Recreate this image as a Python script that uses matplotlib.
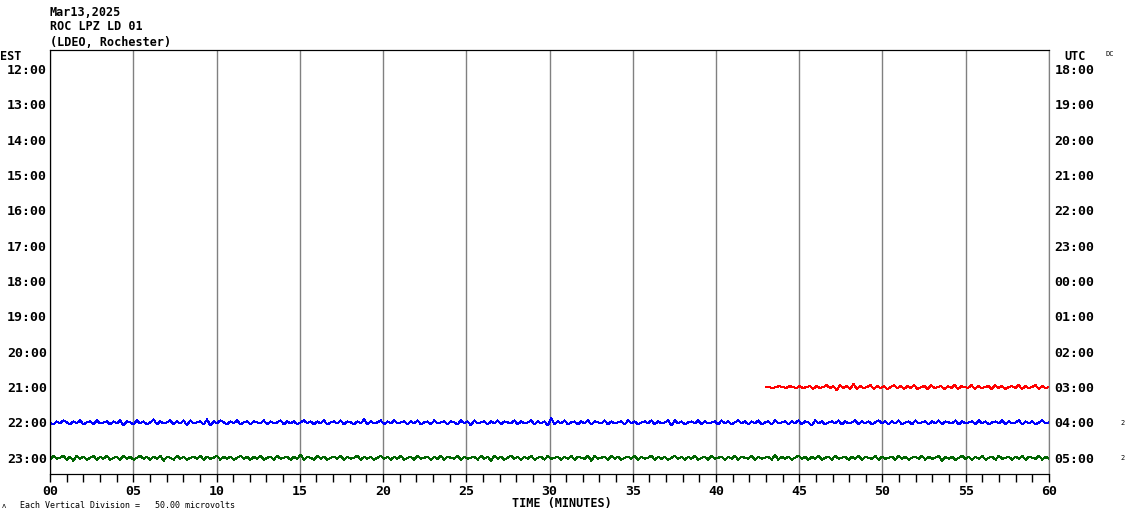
import matplotlib.pyplot as plt
import numpy as np

est_hours = ['12:00', '13:00', '14:00', '15:00', '16:00', '17:00',
             '18:00', '19:00', '20:00', '21:00', '22:00', '23:00']
utc_hours = ['18:00', '19:00', '20:00', '21:00', '22:00', '23:00',
             '00:00', '01:00', '02:00', '03:00', '04:00', '05:00']
minute_labels = ['00', '05', '10', '15', '20', '25', '30', '35', '40', '45', '50', '55', '60']

# trace wiggles, in screen pixels around the hour line (5 samples per minute)
blue_px = [0, 2, -1, 1, -2, 0, 2, -1, 1, -2, 2, 0, -1, 2, -2, 1, 0, -1, 2, -1,
           1, -2, 3, -1, 0, 2, -2, 1, -1, 2, 0, -3, 2, -1, 1, 0, -2, 2, -1, 1,
           -2, 3, -2, 1, 0, -1, 2, -3, 3, -1, 1, -2, 0, 2, -1, 1, -2, 2, 0, -1,
           2, -1, 0, 1, -2, 2, -1, 1, 0, -2, 2, -1, 1, -1, 2, 0, -2, 1, -1, 2,
           -1, 1, -2, 2, 0, -1, 1, -2, 2, -1, 0, 2, -1, 1, -3, 2, -1, 1, 0, -2,
           2, -1, 1, -2, 1, 0, -1, 2, -1, 1, -2, 2, 0, -1, 2, -2, 1, 0, -1, 2,
           -1, 0, 2, -2, 1, -1, 3, -2, 1, 0, -1, 2, -1, 1, -2, 2, -1, 0, 1, -2,
           2, -1, 1, 0, -2, 2, -1, 1, -1, 3, -4, 2, -1, 1, -2, 2, 0, -1, 2, -1,
           1, -2, 2, -1, 0, 1, -2, 2, -1, 1, 0, -1, 2, -2, 1, -1, 2, 0, -1, 1,
           -2, 2, -1, 1, 0, -2, 3, -2, 1, -1, 2, 0, -1, 1, -2, 2, -1, 1, 0, -1,
           2, -2, 1, -1, 2, 0, -2, 1, -1, 2, -1, 1, -2, 2, 0, -1, 2, -2, 1, 0,
           -1, 2, -1, 1, -2, 2, -1, 0, 3, -2, 1, -1, 2, 0, -1, 1, -2, 2, -1, 1,
           0, -2, 2, -1, 1, -1, 2, 0, -2, 1, -1, 2, -1, 1, -2, 2, 0, -1, 2, -2,
           1, 0, -1, 2, -1, 1, -2, 2, -1, 0, 1, -2, 2, -1, 1, 0, -1, 2, -2, 1,
           -1, 2, 0, -1, 1, -2, 2, -1, 1, 0, -2, 2, -1, 1, -1, 2, 0, -2, 1, 0]
green_px = [2, -2, 1, 0, -2, 2, -1, 3, -2, 1, -1, 2, 0, -2, 2, -1, 1, -2, 2, 0,
            -1, 2, -2, 1, -1, 2, 0, -2, 1, -1, 2, -1, 1, -2, 3, -1, 0, 2, -2, 1,
            -1, 2, 0, -1, 1, -2, 2, -1, 1, 0, -2, 2, -1, 1, -1, 2, 0, -2, 1, -1,
            2, -1, 1, -2, 2, 0, -1, 2, -2, 1, 0, -1, 2, -1, 1, -3, 2, -1, 0, 2,
            -2, 1, -1, 2, 0, -1, 1, -2, 2, -1, 1, 0, -2, 2, -1, 1, -1, 2, 0, -2,
            1, -1, 2, -1, 1, -2, 2, 0, -1, 2, -2, 1, 0, -1, 2, -1, 1, -2, 2, -1,
            0, 1, -2, 2, -1, 1, 0, -1, 2, -2, 1, -1, 3, -2, 1, -1, 2, 0, -2, 1,
            -1, 2, -1, 1, -2, 2, 0, -1, 2, -2, 1, 0, -1, 2, -1, 1, -2, 2, -1, 0,
            1, -2, 3, -2, 1, 0, -1, 2, -2, 1, -1, 2, 0, -1, 1, -2, 2, -1, 1, 0,
            -2, 2, -1, 1, -1, 2, 0, -2, 1, -1, 2, -1, 1, -2, 2, 0, -1, 2, -2, 1,
            0, -1, 2, -1, 1, -2, 2, -1, 0, 1, -2, 2, -1, 1, 0, -1, 2, -3, 2, -1,
            1, -1, 2, 0, -2, 1, -1, 2, -1, 1, -2, 2, 0, -1, 2, -2, 1, 0, -1, 2,
            -1, 1, -2, 2, -1, 0, 1, -2, 2, -1, 1, 0, -1, 2, -2, 1, -1, 2, 0, -1,
            1, -2, 2, -1, 1, 0, -2, 3, -1, 1, -1, 2, 0, -2, 1, -1, 2, -1, 1, -2,
            2, 0, -1, 2, -2, 1, 0, -1, 2, -1, 1, -2, 2, -1, 0, 1, -2, 2, -1, 1]
red_px = [0, 0, 1, 0, -1, 0, 1, -1, 0, 1, -1, 1, 0, -1, 2, -1, 1, 0, -2, 1,
          -1, 3, -2, 1, -1, 2, -3, 2, -1, 1, 0, -2, 2, -1, 1, -1, 2, 0, -2, 1,
          -1, 2, -1, 1, -2, 2, 0, -1, 2, -2, 1, 0, -1, 2, -1, 1, -2, 2, -1, 0,
          1, -2, 2, -1, 1, 0, -1, 2, -2, 1, -1, 2, 0, -1, 1, -2, 2, -1, 1, 0,
          -2, 2, -1, 1, 0]

px_per_row = 35.4

fig = plt.figure(figsize=(11.3, 5.19), dpi=100)
ax = fig.add_axes([50 / 1130, 45 / 519, 999 / 1130, 424 / 519])

t_full = np.linspace(0, 60, len(blue_px))
t_red = np.linspace(43, 60, len(red_px))
ax.plot(t_full, 10 + np.array(blue_px) / px_per_row, color='#0000ff', lw=0.75,
        antialiased=False)
ax.plot(t_full, 11 + np.array(green_px) / px_per_row, color='#006400', lw=0.75,
        antialiased=False)
ax.plot(t_red, 9 + np.array(red_px) / px_per_row, color='#ff0000', lw=0.75,
        antialiased=False)

ax.set_xlim(0, 60)
ax.set_ylim(11.46, -0.54)
ax.set_xticks(range(0, 61, 5))
ax.set_xticks(range(0, 61), minor=True)
ax.set_xticklabels(minute_labels, fontfamily='DejaVu Sans Mono',
                   fontweight='bold', fontsize=9.5)
ax.tick_params(axis='x', which='both', direction='out', length=6, width=1,
               pad=2)
ax.grid(axis='x', color='#808080', lw=1)

ax.set_yticks(range(12))
ax.set_yticklabels(est_hours, fontfamily='DejaVu Sans Mono',
                   fontweight='bold', fontsize=9.5)
ax.tick_params(axis='y', length=0, pad=2)

ax2 = ax.twinx()
ax2.set_ylim(ax.get_ylim())
ax2.set_yticks(range(12))
ax2.set_yticklabels(utc_hours, fontfamily='DejaVu Sans Mono',
                    fontweight='bold', fontsize=9.5)
ax2.tick_params(axis='y', length=0, pad=4)

for a in (ax, ax2):
    a.spines['top'].set_color('black')
    a.spines['left'].set_color('black')
    a.spines['bottom'].set_color('black')
    a.spines['right'].set_color('#808080')

mono = dict(fontfamily='DejaVu Sans Mono', fontweight='bold')
fig.text(50 / 1130, 1 - 12 / 519, 'Mar13,2025', fontsize=8.5, va='center', **mono)
fig.text(50 / 1130, 1 - 27 / 519, 'ROC LPZ LD 01', fontsize=8.5, va='center', **mono)
fig.text(50 / 1130, 1 - 42 / 519, '(LDEO, Rochester)', fontsize=8.5, va='center', **mono)
fig.text(0, 1 - 56 / 519, 'EST', fontsize=8.5, va='center', **mono)
fig.text(1064 / 1130, 1 - 56 / 519, 'UTC', fontsize=8.5, va='center', **mono)
fig.text(1105 / 1130, 1 - 54 / 519, 'DC', fontsize=5, va='center',
         fontfamily='DejaVu Sans Mono')
fig.text(1120 / 1130, 1 - 423 / 519, '2', fontsize=5, va='center',
         fontfamily='DejaVu Sans Mono')
fig.text(1120 / 1130, 1 - 458 / 519, '2', fontsize=5, va='center',
         fontfamily='DejaVu Sans Mono')
fig.text(562 / 1130, 1 - 503 / 519, 'TIME (MINUTES)', fontsize=8.5,
         ha='center', va='center', **mono)
fig.text(2 / 1130, 1 - 506 / 519, 'ʌ', fontsize=5, va='center',
         fontfamily='DejaVu Sans Mono')
fig.text(20 / 1130, 1 - 505 / 519, 'Each Vertical Division =   50.00 microvolts',
         fontsize=6, va='center', fontfamily='DejaVu Sans Mono')

fig.savefig('out.png', dpi=100)
